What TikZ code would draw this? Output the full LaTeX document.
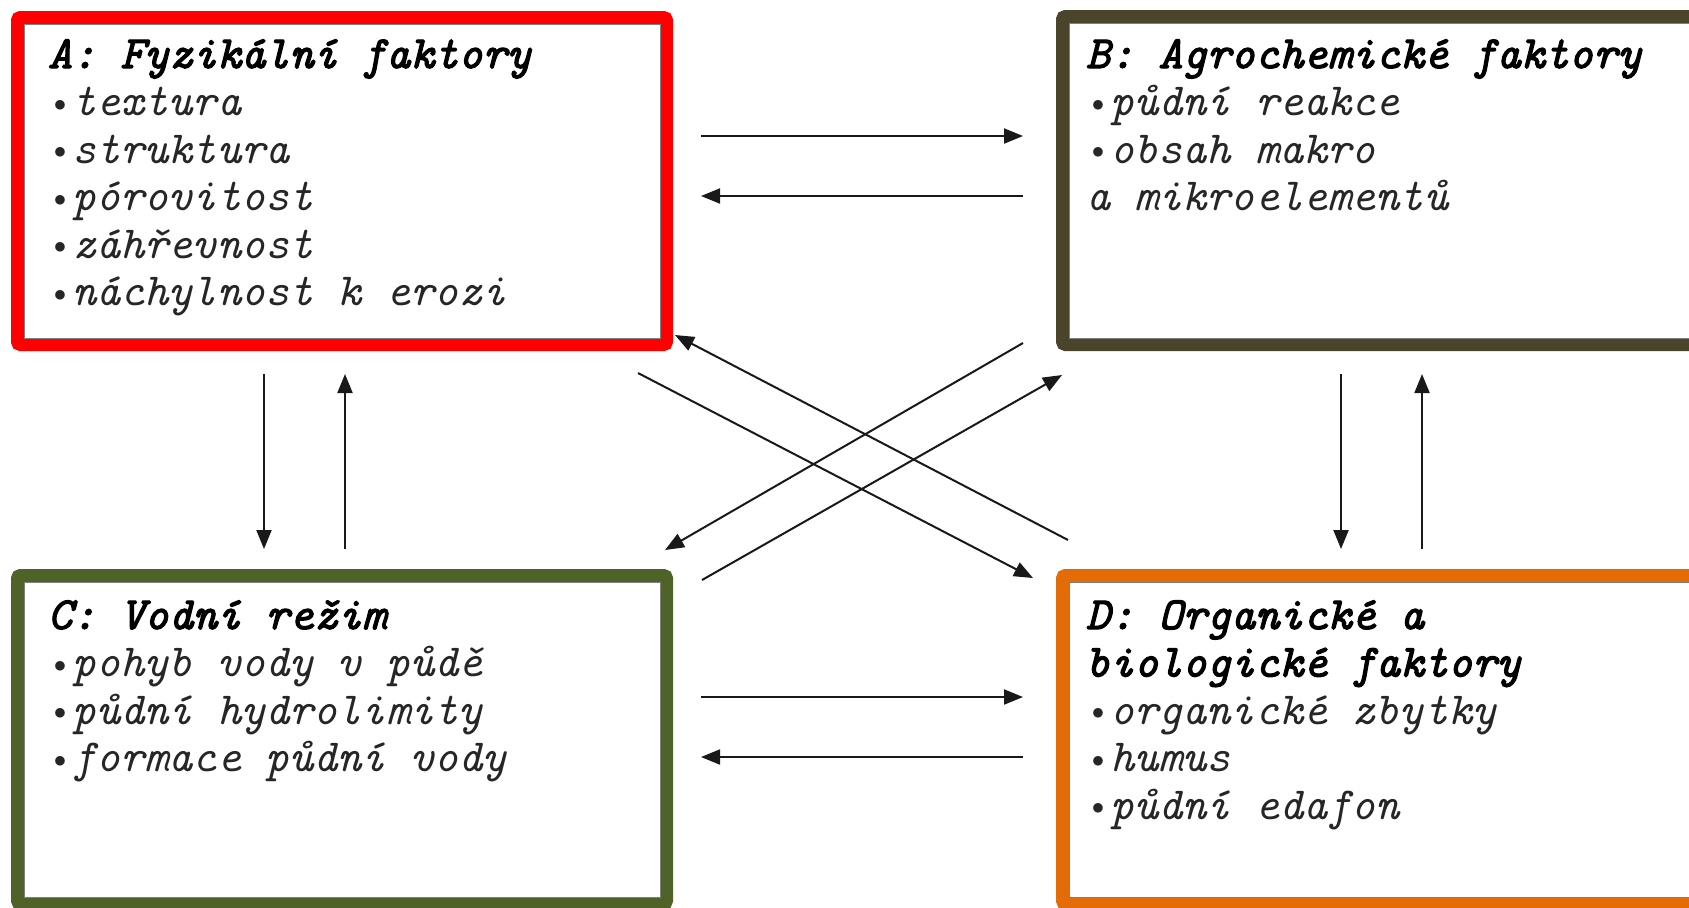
\documentclass[tikz,border=0pt]{standalone}
\usepackage{fontspec}
\usepackage{graphicx}
\usetikzlibrary{arrows.meta,calc}
\newfontfamily\bodyf{lmmono10-italic.otf}
\newfontfamily\titlef{lmmono10-italic.otf}[FakeBold=2.5]
\newcommand\bul{\makebox[0.525em][c]{\raisebox{0.09em}{\scalebox{0.5}{$\bullet$}}}}
\definecolor{colA}{HTML}{FF0000}
\definecolor{colB}{HTML}{4A442A}
\definecolor{colC}{HTML}{4F6228}
\definecolor{colD}{HTML}{E36C09}
\tikzset{
  frame/.style={draw, line width=6.5pt, rounded corners=1.5pt, inner sep=0pt, outer sep=0pt},
  innerline/.style={draw=black!50, line width=0.45pt},
  txt/.style={anchor=base west, inner sep=0pt, outer sep=0pt, font=\bodyf\fontsize{23}{27}\selectfont, text=black!85},
  ttl/.style={txt, font=\titlef\fontsize{23}{27}\selectfont, text=black},
  arr/.style={draw=black!90, line width=1pt, -{Triangle[length=9.5pt,width=7.5pt]}}
}
\begin{document}
\begin{tikzpicture}[x=0.5pt,y=-0.5pt]
\useasboundingbox (0,0) rectangle (1689,907);
\fill[white] (0,0) rectangle (1689,907);
\begin{scope}
\clip (0,0) rectangle (1689,907);
\node[frame, draw=colA, minimum width=324.5pt, minimum height=163.5pt] (A) at (342,181) {};
\node[frame, draw=colB, minimum width=318.75pt, minimum height=164pt] (B) at (1381.25,180.5) {};
\node[frame, draw=colC, minimum width=324.5pt, minimum height=164pt] (C) at (342,739.5) {};
\node[frame, draw=colD, minimum width=318.75pt, minimum height=164pt] (D) at (1381.25,739.5) {};
\foreach \n in {A,B,C,D}{
  \draw[innerline] ($(\n.north west)+(6.5,6.5)$) rectangle ($(\n.south east)+(-6.5,-6.5)$);
}
\end{scope}
% texts
\node[ttl] (A0) at (48,68) {A: Fyzikální faktory};
\node[txt] (A1) at (48,115.5) {\bul textura};
\node[txt] (A2) at (48,163) {\bul struktura};
\node[txt] (A3) at (48,210.5) {\bul pórovitost};
\node[txt] (A4) at (48,258) {\bul záhřevnost};
\node[txt] (A5) at (48,305.5) {\bul náchylnost k erozi};
\node[ttl] (B0) at (1086,68) {B: Agrochemické faktory};
\node[txt] (B1) at (1086,115.5) {\bul půdní reakce};
\node[txt] (B2) at (1086,163) {\bul obsah makro};
\node[txt] (B3) at (1086,210.5) {a mikroelementů};
\node[ttl] (C0) at (48,629) {C: Vodní režim};
\node[txt] (C1) at (48,676.5) {\bul pohyb vody v půdě};
\node[txt] (C2) at (48,724) {\bul půdní hydrolimity};
\node[txt] (C3) at (48,771.5) {\bul formace půdní vody};
\node[ttl] (D0) at (1086,629) {D: Organické a};
\node[ttl] (D1) at (1086,676.5) {biologické faktory};
\node[txt] (D2) at (1086,724) {\bul organické zbytky};
\node[txt] (D3) at (1086,771.5) {\bul humus};
\node[txt] (D4) at (1086,819) {\bul půdní edafon};
% connector end points
\coordinate (ab1) at (701,136);  \coordinate (ab2) at (1023,136);
\coordinate (ba1) at (1023,196); \coordinate (ba2) at (701,196);
\coordinate (cd1) at (701,697);  \coordinate (cd2) at (1023,697);
\coordinate (dc1) at (1023,757); \coordinate (dc2) at (701,757);
\coordinate (ac1) at (264,374);  \coordinate (ac2) at (264,549);
\coordinate (ca1) at (345,549);  \coordinate (ca2) at (345,374);
\coordinate (bd1) at (1341,374); \coordinate (bd2) at (1341,549);
\coordinate (db1) at (1422,549); \coordinate (db2) at (1422,374);
\coordinate (da1) at (1068,540); \coordinate (da2) at (675,335);
\coordinate (ad1) at (638,373);  \coordinate (ad2) at (1033,578);
\coordinate (bc1) at (1023,343); \coordinate (bc2) at (665,550);
\coordinate (cb1) at (702,580);  \coordinate (cb2) at (1062,375);
\foreach \s/\e in {ab1/ab2,ba1/ba2,cd1/cd2,dc1/dc2,ac1/ac2,ca1/ca2,bd1/bd2,db1/db2,da1/da2,ad1/ad2,bc1/bc2,cb1/cb2}{
  \draw[arr] (\s) -- (\e);
}
\end{tikzpicture}
\end{document}
